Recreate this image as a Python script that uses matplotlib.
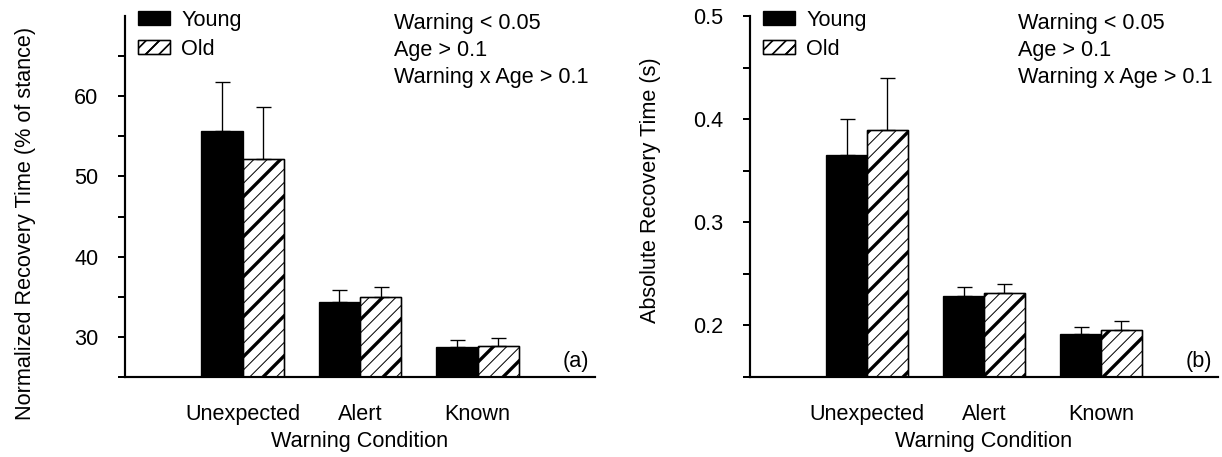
import numpy as np
import matplotlib
matplotlib.use('Agg')
import matplotlib.pyplot as plt
from matplotlib.legend_handler import HandlerTuple

plt.rcParams['font.family'] = ['Liberation Sans', 'DejaVu Sans']
plt.rcParams['font.size'] = 13

# data: group means and upper SD for each warning condition
cond = ['Unexpected', 'Alert', 'Known']
norm_young = [55.7, 34.4, 28.7]
norm_young_err = [6.1, 1.4, 0.9]
norm_old = [52.2, 35.0, 28.9]
norm_old_err = [6.4, 1.2, 0.9]
abs_young = [0.365, 0.229, 0.1915]
abs_young_err = [0.035, 0.008, 0.007]
abs_old = [0.389, 0.231, 0.1955]
abs_old_err = [0.051, 0.009, 0.009]
stats_txt = ['Warning < 0.05', 'Age > 0.1', 'Warning x Age > 0.1']


def hatched_bars(ax, x, h, w):
    # thin /// lines with every third one drawn heavy
    thin = ax.bar(x, h, w, color='white', edgecolor='black', hatch='///',
                  linewidth=0.8, zorder=2)
    thick = ax.bar(x, h, w, color='none', edgecolor='black', hatch='/',
                   linewidth=0.8, zorder=2)
    for p in thin:
        if hasattr(p, 'set_hatch_linewidth'):
            p.set_hatch_linewidth(0.6)
    for p in thick:
        if hasattr(p, 'set_hatch_linewidth'):
            p.set_hatch_linewidth(2.0)
    return thin, thick


def panel(ax, young, young_err, old, old_err, ylim, major, minor, ylabel, tag):
    x = np.arange(1, len(cond) + 1)
    w = 0.35
    by = ax.bar(x - w/2, young, w, color='black', edgecolor='black', linewidth=0.8, zorder=2)
    thin, thick = hatched_bars(ax, x + w/2, old, w)
    ax.errorbar(x - w/2, young, yerr=[np.zeros(len(x)), young_err], fmt='none',
                ecolor='black', elinewidth=0.8, capsize=4.5, capthick=0.8, zorder=3)
    ax.errorbar(x + w/2, old, yerr=[np.zeros(len(x)), old_err], fmt='none',
                ecolor='black', elinewidth=0.8, capsize=4.5, capthick=0.8, zorder=3)

    ax.set_xlim(0, 4)
    ax.set_ylim(ylim)
    ax.set_yticks(major)
    ax.set_yticks(minor, minor=True)
    ax.set_xticks(x)
    ax.set_xticklabels(cond)
    ax.tick_params(axis='x', length=0, pad=16)
    ax.tick_params(axis='y', which='both', direction='out', length=4, width=1.2, pad=12)
    for s in ['top', 'right']:
        ax.spines[s].set_visible(False)
    for s in ['left', 'bottom']:
        ax.spines[s].set_linewidth(1.3)
    ax.set_xlabel('Warning Condition', labelpad=4)
    ax.set_ylabel(ylabel)

    ax.legend([by, (thin, thick)], ['Young', 'Old'],
              handler_map={tuple: HandlerTuple(ndivide=1)},
              loc='upper left', bbox_to_anchor=(0.027, 1.017), frameon=False,
              borderpad=0, borderaxespad=0, handlelength=1.5, handleheight=0.6,
              handletextpad=0.5, labelspacing=0.36)
    ax.text(0.572, 1.008, '\n'.join(stats_txt), transform=ax.transAxes,
            ha='left', va='top', linespacing=1.36)
    ax.text(0.988, 0.042, tag, transform=ax.transAxes, ha='right', va='center')


fig = plt.figure(figsize=(1222/120, 457/120), dpi=120)
ax1 = fig.add_axes([125/1222, 80/457, 470/1222, 361/457])
ax2 = fig.add_axes([750/1222, 80/457, 468/1222, 361/457])

panel(ax1, norm_young, norm_young_err, norm_old, norm_old_err, (25, 70),
      [30, 40, 50, 60], [25, 35, 45, 55, 65],
      'Normalized Recovery Time (% of stance)', '(a)')
panel(ax2, abs_young, abs_young_err, abs_old, abs_old_err, (0.15, 0.5),
      [0.2, 0.3, 0.4, 0.5], [0.15, 0.25, 0.35, 0.45],
      'Absolute Recovery Time (s)', '(b)')
ax1.yaxis.set_label_coords(-0.19, 0.425)
ax2.yaxis.set_label_coords(-0.19, 0.517)

fig.savefig('out.png', dpi=120)
